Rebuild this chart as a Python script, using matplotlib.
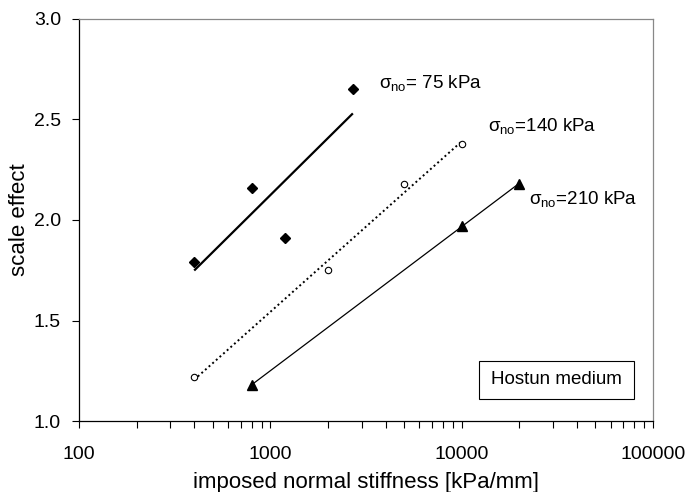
import numpy as np
import matplotlib
matplotlib.use("Agg")
import matplotlib.pyplot as plt
from matplotlib.ticker import LogLocator, FixedLocator, FuncFormatter, NullFormatter
from matplotlib.patches import Rectangle

plt.rcParams['font.family'] = ['Liberation Sans', 'DejaVu Sans']
plt.rcParams['mathtext.fontset'] = 'custom'
plt.rcParams['mathtext.rm'] = 'Liberation Sans'
plt.rcParams['mathtext.it'] = 'Liberation Sans'
plt.rcParams['mathtext.sf'] = 'Liberation Sans'

# data
stiff_75 = [400, 800, 1200, 2700]
scale_75 = [1.79, 2.16, 1.91, 2.65]
stiff_140 = [400, 2000, 5000, 10000]
scale_140 = [1.22, 1.75, 2.18, 2.38]
stiff_210 = [800, 10000, 20000]
scale_210 = [1.18, 1.97, 2.18]
labels = ['= 75 kPa', '=140 kPa', '=210 kPa']

fig = plt.figure(figsize=(6.87, 4.92), dpi=100)
ax = fig.add_axes([0.115, 0.1443, 0.8355, 0.8171])

def trend(xs, ys):
    lx = np.log10(xs)
    k, b = np.polyfit(lx, ys, 1)
    xe = np.array([min(xs), max(xs)])
    return xe, k * np.log10(xe) + b

# 75 kPa
xe, ye = trend(stiff_75, scale_75)
ax.plot(xe, ye, color='black', lw=1.6, solid_capstyle='butt')
ax.plot(stiff_75, scale_75, linestyle='none', marker='D', ms=5, color='black')
# 140 kPa
xe, ye = trend(stiff_140, scale_140)
ax.plot(xe, ye, color='black', lw=1.4, linestyle=(0, (1, 1.5)))
ax.plot(stiff_140, scale_140, linestyle='none', marker='o', ms=4.6,
        markerfacecolor='white', markeredgecolor='black', markeredgewidth=0.8)
# 210 kPa
xe, ye = trend(stiff_210, scale_210)
ax.plot(xe, ye, color='black', lw=0.9)
ax.plot(stiff_210, scale_210, linestyle='none', marker='^', ms=6.5, color='black')

ax.set_xscale('log')
ax.set_xlim(100, 100000)
ax.set_ylim(1.0, 3.0)
ax.set_yticks([1.0, 1.5, 2.0, 2.5, 3.0])
ax.yaxis.set_major_formatter(FuncFormatter(lambda v, p: f"{v:.1f}"))
ax.xaxis.set_major_locator(FixedLocator([100, 1000, 10000, 100000]))
ax.xaxis.set_major_formatter(FuncFormatter(lambda v, p: f"{int(round(v))}"))
ax.xaxis.set_minor_locator(LogLocator(base=10, subs=np.arange(2, 10), numticks=20))
ax.xaxis.set_minor_formatter(NullFormatter())

ax.tick_params(axis='both', which='major', direction='out', length=5, width=0.8,
               labelsize=14, colors='black')
ax.tick_params(axis='y', which='major', pad=8)
ax.tick_params(axis='x', which='major', pad=13)
ax.tick_params(axis='x', which='minor', direction='out', length=5, width=0.8)

for s in ['top', 'right']:
    ax.spines[s].set_color('#888888')
    ax.spines[s].set_linewidth(0.9)
for s in ['left', 'bottom']:
    ax.spines[s].set_color('black')
    ax.spines[s].set_linewidth(0.9)

ax.set_xlabel('imposed normal stiffness [kPa/mm]', fontsize=16, va='center')
ax.xaxis.set_label_coords(0.5, -0.152)
ax.set_ylabel('scale effect', fontsize=16, va='center')
ax.yaxis.set_label_coords(-0.103, 0.5)

# series annotations
ann_pos = [(3690, 2.68), (13700, 2.468), (22600, 2.103)]
for (xp, yp), lab in zip(ann_pos, labels):
    ax.text(xp, yp, r'$\sigma_{\mathrm{no}}$' + lab, fontsize=13.5, ha='left', va='center')

# legend-like box
ax.add_patch(Rectangle((0.697, 0.0547), 0.270, 0.0943, transform=ax.transAxes,
                       facecolor='white', edgecolor='black', lw=0.8, zorder=5))
ax.text(0.832, 0.102, 'Hostun medium', transform=ax.transAxes, fontsize=13.5,
        ha='center', va='center', zorder=6)

fig.savefig('out.png', dpi=100)
